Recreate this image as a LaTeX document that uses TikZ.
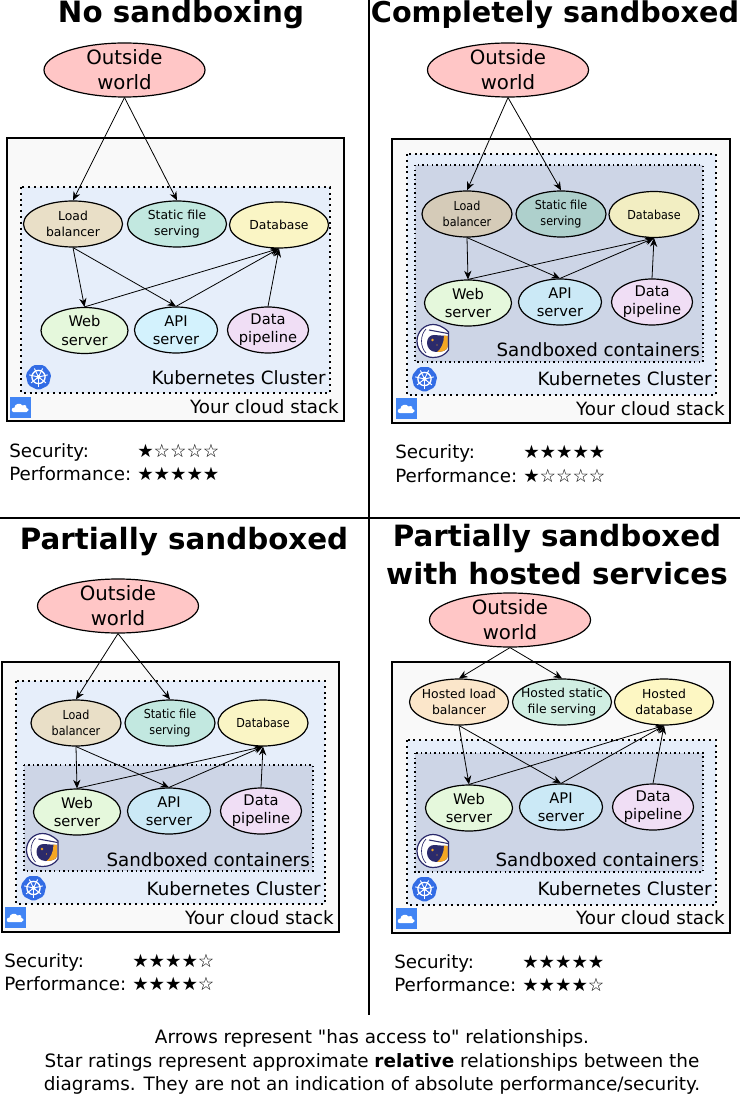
\documentclass[tikz,border=0pt]{standalone}
\usepackage{fontspec}
\setmainfont{DejaVu Sans}
\newfontfamily\narrowfont[FakeStretch=0.9]{DejaVu Sans}
\newfontfamily\plainfont{DejaVu Sans}
\usetikzlibrary{shapes.geometric,arrows.meta}
\definecolor{cloudfill}{HTML}{F9F9F9}
\definecolor{kfill}{HTML}{E6EEFA}
\definecolor{sfill}{HTML}{CDD5E6}
\definecolor{kblue}{HTML}{326CE5}
\definecolor{gblue}{HTML}{4285F4}
\definecolor{navy}{HTML}{2B2A6B}
\definecolor{orangev}{HTML}{F5A623}
\definecolor{oval}{HTML}{FFC6C6}
\definecolor{cload}{HTML}{E9DFC7}
\definecolor{cstatic}{HTML}{C2E8E0}
\definecolor{cdb}{HTML}{FAF5C5}
\definecolor{cweb}{HTML}{E5F8DC}
\definecolor{capi}{HTML}{D3F2FD}
\definecolor{cdata}{HTML}{F0DEF5}
\definecolor{sload}{HTML}{D5CBB8}
\definecolor{sstatic}{HTML}{AED0CC}
\definecolor{sdb}{HTML}{F2EEC2}
\definecolor{sapi}{HTML}{CBE9F6}
\definecolor{hload}{HTML}{FBE6CA}
\definecolor{hstatic}{HTML}{D0EEE2}
\definecolor{hdb}{HTML}{FDF7C3}
\newcommand{\psize}[2]{\fontsize{#1}{#2}\selectfont}
\newcommand{\kicon}[1]{%
 \begin{scope}[shift={(#1)}]
  \fill[kblue,rounded corners=1.5] (90:13.2) -- (141.4:13.2) -- (192.8:13.2) -- (244.3:13.2) -- (295.7:13.2) -- (347.1:13.2) -- (38.6:13.2) -- cycle;
  \draw[white,line width=1pt] (0,0) circle (6.6);
  \foreach \a in {90,141.4,192.8,244.3,295.7,347.1,38.6} \draw[white,line width=0.7pt] (0,0) -- (\a:9.5);
  \fill[white] (0,0) circle (2);
 \end{scope}}
\newcommand{\cicon}[1]{%
 \begin{scope}[shift={(#1)}]
  \fill[gblue] (-10.5,-10.5) rectangle (10.5,10.5);
  \fill[white] (-7,4.5) .. controls (-9.5,4.5) and (-9.5,0) .. (-6,0) .. controls (-6,-4) and (0,-5) .. (2,-2) .. controls (5,-3.5) and (7,-1) .. (6,0.5) .. controls (9,1) and (8.5,4.5) .. (6,4.5) -- cycle;
 \end{scope}}
\newcommand{\aicon}[1]{%
 \begin{scope}[shift={(#1)}]
  \filldraw[fill=white,draw=navy,line width=0.9pt] (15.5,-9) .. controls (10,-15) and (4,-16.5) .. (0,-16.5) .. controls (-9,-16.5) and (-16,-9) .. (-16,0) .. controls (-16,9) and (-9,16.5) .. (0,16.5) .. controls (7,16.5) and (12,14) .. (15.5,9) -- cycle;
  \draw[navy,line width=0.5pt] (-7,-12) .. controls (-13,-6) and (-13,6) .. (-7,12);
  \draw[navy,line width=0.8pt] (-4,-11) -- (15,-7.5);
  \fill[navy] (14.5,-5) -- (14.5,6) .. controls (14,10) and (8,11) .. (3,11) .. controls (-3,11) and (-6,6) .. (-6,2) .. controls (-6,-3) and (-3,-6) .. (1,-6) -- cycle;
  \fill[orangev] (11,-5.5) .. controls (11,2) and (8,8) .. (4,11) .. controls (10,11) and (14,9) .. (14.5,6) -- (14.5,-5) -- cycle;
  \fill[orangev] (-0.5,-1) circle (1.3);
  \fill[orangev] (4,4) circle (0.6);
 \end{scope}}
\tikzset{
 x=0.75pt,y=-0.75pt,
 ttl/.style={font=\bfseries\psize{22}{27},inner sep=0,align=center},
 ttlsmall/.style={font=\bfseries\psize{21.5}{27},inner sep=0,align=center},
 ovalnode/.style={ellipse,draw=black,line width=0.9pt,inner sep=-12pt,minimum height=46*0.75pt,align=center},
 outnode/.style={ovalnode,fill=oval,minimum width=161*0.75pt,minimum height=54*0.75pt,font=\psize{14.8}{18.7}},
 upn/.style={ovalnode,minimum width=99*0.75pt,font=\psize{9.3}{11.5}},
 sup90/.style={upn,minimum width=90*0.75pt,font=\narrowfont\psize{9.3}{11.5}},
 lown/.style={ovalnode,font=\psize{11}{13.6}},
 webn/.style={lown,fill=cweb,minimum width=87*0.75pt},
 apin/.style={lown,minimum width=83*0.75pt,fill=capi},
 datan/.style={lown,fill=cdata,minimum width=81*0.75pt},
 cloudbox/.style={draw=black,fill=cloudfill,line width=1.5pt},
 kbox/.style={draw=black,fill=kfill,line width=1.5pt,dash pattern=on 1.5pt off 2.85pt},
 sbox/.style={draw=black,fill=sfill,line width=1.1pt,dash pattern=on 1.1pt off 2.3pt},
 lab/.style={font=\psize{13.7}{16},inner sep=0,anchor=base east},
 rate/.style={font=\psize{13.7}{16},inner sep=0,anchor=base west},
 stars/.style={font=\psize{13.75}{16},inner sep=0,anchor=base west},
 captext/.style={font=\psize{13.8}{16},inner sep=0,anchor=base},
 link/.style={black,line width=0.6pt,-{Stealth[length=6.5pt,width=5.5pt]}},
}
\newcommand{\links}[1]{%
 \draw[link] (#1o.south) -- (#1l.north);
 \draw[link] (#1o.south) -- (#1s.north);
 \draw[link] (#1l.south) -- (#1w.north);
 \draw[link] (#1l.south) -- (#1a.north);
 \draw[link] (#1w.north) -- (#1d.south);
 \draw[link] (#1a.north) -- (#1d.south);
 \draw[link] (#1p.north) -- (#1d.south);}
\begin{document}
\begin{tikzpicture}
\useasboundingbox (0,0) rectangle (740,1094);
\fill[white] (0,0) rectangle (740,1094);
\draw[black,line width=1.5pt] (368.5,0) -- (368.5,1015);
\draw[black,line width=1.5pt] (0,517.5) -- (740,517.5);

% Panel 1
\node[ttl] (t1) at (181,15) {No sandboxing};
\node[outnode] (ao) at (124.5,70) {Outside\\world};
\draw[cloudbox] (7,138) rectangle (344,421);
\draw[kbox] (21,187) rectangle (330,393);
\node[upn,fill=cload] (al) at (73,224) {Load\\balancer};
\node[upn,fill=cstatic] (as) at (177,224) {Static file\\serving};
\node[upn,fill=cdb] (ad) at (279,225) {Database};
\node[webn] (aw) at (84.5,330.5) {Web\\server};
\node[apin] (aa) at (176,330) {API\\server};
\node[datan] (ap) at (268,330) {Data\\pipeline};
\links{a}
\kicon{38.5,377}
\cicon{20.5,407.5}
\node[lab] (ak) at (326,384) {Kubernetes Cluster};
\node[lab] (ay) at (339,413) {Your cloud stack};
\node[rate] (as1) at (9,457) {Security:};
\node[rate] (ap1) at (9,480) {Performance:};
\node[stars] (ar1) at (137,457) {★☆☆☆☆};
\node[stars] (ar2) at (137,480) {★★★★★};

% Panel 2
\node[ttlsmall] (t2) at (555,15) {Completely sandboxed};
\node[outnode] (bo) at (508,70) {Outside\\world};
\draw[cloudbox] (392,139.5) rectangle (730,423);
\draw[kbox] (407,154) rectangle (716,395);
\draw[sbox] (415,165) rectangle (703,362);
\node[sup90,fill=sload] (bl) at (467,214) {Load\\balancer};
\node[sup90,fill=sstatic] (bs) at (561,214) {Static file\\serving};
\node[sup90,fill=sdb] (bd) at (654,214.5) {Database};
\node[webn] (bw) at (468,303) {Web\\server};
\node[apin,fill=sapi] (ba) at (560,302) {API\\server};
\node[datan] (bp) at (652,302) {Data\\pipeline};
\links{b}
\aicon{433,341}
\kicon{424.5,379}
\cicon{406.5,408.5}
\node[lab] (bc) at (700,356) {Sandboxed containers};
\node[lab] (bk) at (712,385) {Kubernetes Cluster};
\node[lab] (by) at (725,415) {Your cloud stack};
\node[rate] (bs1) at (395,458) {Security:};
\node[rate] (bp1) at (395,482) {Performance:};
\node[stars] (br1) at (523,458) {★★★★★};
\node[stars] (br2) at (523,482) {★☆☆☆☆};

% Panel 3
\node[ttl] (t3) at (184,542) {Partially sandboxed};
\node[outnode] (co) at (118,606) {Outside\\world};
\draw[cloudbox] (2,662) rectangle (339,932);
\draw[kbox] (16,681) rectangle (325,904);
\draw[sbox] (24,765) rectangle (313,871);
\node[sup90,fill=cload] (cl) at (76,723) {Load\\balancer};
\node[sup90,fill=cstatic] (cs) at (170,723) {Static file\\serving};
\node[sup90,fill=cdb] (cd) at (263,723) {Database};
\node[webn] (cw) at (77,812) {Web\\server};
\node[apin,fill=sapi] (ca) at (169,811) {API\\server};
\node[datan] (cp) at (261,811) {Data\\pipeline};
\links{c}
\aicon{42.5,850}
\kicon{33.5,888}
\cicon{15.5,917.5}
\node[lab] (cc) at (310,866) {Sandboxed containers};
\node[lab] (ck) at (321,895) {Kubernetes Cluster};
\node[lab] (cy) at (334,924) {Your cloud stack};
\node[rate] (cs1) at (4,967) {Security:};
\node[rate] (cp1) at (4,990) {Performance:};
\node[stars] (cr1) at (132,967) {★★★★☆};
\node[stars] (cr2) at (132,990) {★★★★☆};

% Panel 4
\node[ttl] (t4) at (557,539) {Partially sandboxed};
\node[ttl] (t5) at (557,574) {with hosted services};
\node[outnode] (do) at (510,620) {Outside\\world};
\draw[cloudbox] (392,662) rectangle (730,933);
\draw[kbox] (407,740) rectangle (716,905);
\draw[sbox] (415,753) rectangle (703,872);
\node[upn,fill=hload] (dl) at (459,702) {Hosted load\\balancer};
\node[upn,fill=hstatic] (ds) at (562,702) {Hosted static\\file serving};
\node[upn,fill=hdb] (dd) at (664,702) {Hosted\\database};
\node[webn] (dw) at (469,808) {Web\\server};
\node[apin,fill=sapi] (da) at (561,807) {API\\server};
\node[datan] (dp) at (653,807) {Data\\pipeline};
\links{d}
\aicon{433,851}
\kicon{424.5,889}
\cicon{406.5,918.5}
\node[lab] (dc) at (699,866) {Sandboxed containers};
\node[lab] (dk) at (712,895) {Kubernetes Cluster};
\node[lab] (dy) at (725,924) {Your cloud stack};
\node[rate] (ds1) at (394,968) {Security:};
\node[rate] (dp1) at (394,991) {Performance:};
\node[stars] (dr1) at (522,968) {★★★★★};
\node[stars] (dr2) at (522,991) {★★★★☆};

% Caption
\node[captext] (n1) at (372,1043) {Arrows represent {\plainfont "has access to"} relationships.};
\node[captext] (n2) at (372,1067) {Star ratings represent approximate \textbf{relative} relationships between the};
\node[captext] (n3) at (372,1090) {diagrams. They are not an indication of absolute performance/security.};
\end{tikzpicture}
\end{document}
